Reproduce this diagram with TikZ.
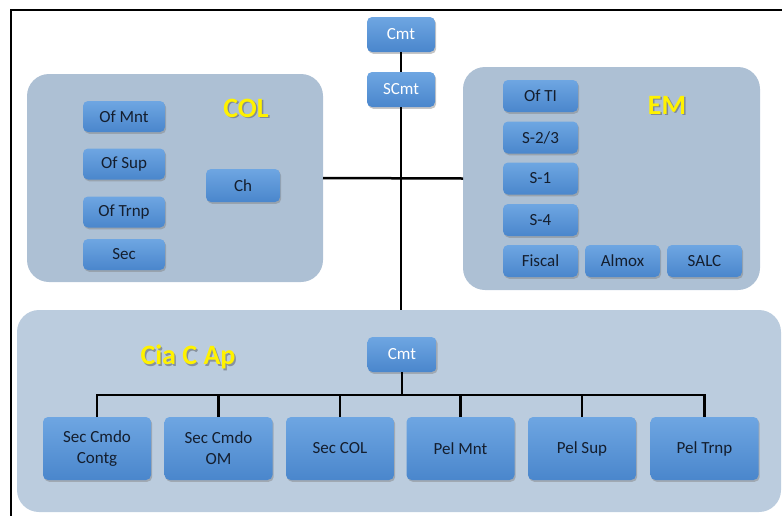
\documentclass[tikz,border=0pt]{standalone}
\usepackage{fontspec}
\setmainfont{Carlito}
\usetikzlibrary{shadows}
\definecolor{boxtop}{HTML}{6EA6E2}
\definecolor{boxbot}{HTML}{4A86CC}
\definecolor{colfill}{HTML}{ADC0D4}
\definecolor{ciafill}{HTML}{BBCCDE}
\definecolor{txtdark}{HTML}{141E2E}
\tikzset{
  unit/.style={draw=none, rounded corners=5pt, top color=boxtop, bottom color=boxbot,
    inner sep=0pt, outer sep=0pt, align=center, text=txtdark,
    font=\fontsize{17}{21}\selectfont,
    drop shadow={opacity=0.45, shadow xshift=1.2pt, shadow yshift=-1.8pt}},
  small/.style={unit, minimum width=82pt, minimum height=31pt},
  big/.style={unit, minimum width=108pt, minimum height=63pt},
  whitetxt/.style={text=white},
  group/.style={draw=none, rounded corners=22pt, inner sep=0pt, outer sep=0pt},
  grouptitle/.style={font=\bfseries\fontsize{28}{30}\selectfont, text=yellow},
  titleshadow/.style={font=\bfseries\fontsize{28}{30}\selectfont, text=black!70, opacity=0.45},
  link/.style={draw=black, line width=2.5pt},
}
\begin{document}
\begin{tikzpicture}[x=1pt,y=-1pt]
\useasboundingbox (0,0) rectangle (782,515);
% outer frame
\draw[line width=2pt] (11,520) -- (11,10) -- (790,10);

% containers
\node[group, fill=colfill, minimum width=296pt, minimum height=208pt] (col) at (175,178) {};
\node[group, fill=colfill, minimum width=297pt, minimum height=223pt] (em) at (611.5,178.5) {};
\node[group, fill=ciafill, minimum width=764pt, minimum height=202pt] (cia) at (399,411) {};

% top chain
\node[small, whitetxt, minimum width=68pt, minimum height=35pt] (cmt) at (401,34.5) {Cmt};
\node[small, whitetxt, minimum width=68pt, minimum height=35pt] (scmt) at (401,89.5) {SCmt};
\draw[link] (cmt.south) -- (scmt.north);
\draw[link] (scmt.south) -- (scmt.south |- cia.north);
\draw[link] (col.east) -- (em.west);

% COL
\node[titleshadow] at (247.5,109.5) {COL};
\node[grouptitle] (coltitle) at (246,108) {COL};
\node[small] (ofmnt) at (124,116.5) {Of Mnt};
\node[small] (ofsup) at (124,164) {Of Sup};
\node[small] (oftrnp) at (124,212) {Of Trnp};
\node[small] (sec) at (124,254.5) {Sec};
\node[small, minimum width=74pt, minimum height=33pt] (ch) at (243,185.5) {Ch};

% EM
\node[titleshadow] at (668.5,106.5) {EM};
\node[grouptitle] (emtitle) at (667,105) {EM};
\node[small, minimum width=75pt, minimum height=32pt] (ofti) at (540.5,96) {Of TI};
\node[small, minimum width=75pt, minimum height=32pt] (s23) at (540.5,137.5) {S-2/3};
\node[small, minimum width=75pt, minimum height=32pt] (s1) at (540.5,178.5) {S-1};
\node[small, minimum width=75pt, minimum height=32pt] (s4) at (540.5,220) {S-4};
\node[small, minimum width=75pt, minimum height=32pt] (fiscal) at (540.5,261) {Fiscal};
\node[small, minimum width=75pt, minimum height=32pt] (almox) at (622.5,261) {Almox};
\node[small, minimum width=75pt, minimum height=32pt] (salc) at (704.5,261) {SALC};

% Cia C Ap
\node[titleshadow] at (189.5,358.5) {Cia C Ap};
\node[grouptitle] (ciatitle) at (188,357) {Cia C Ap};
\node[small, whitetxt, minimum width=69pt, minimum height=35pt] (cmtb) at (402,354.5) {Cmt};
\coordinate (bus) at (402,395);
\node[big] (c1) at (97,448.5) {Sec Cmdo\\Contg};
\node[big] (c2) at (218.5,448.5) {Sec Cmdo\\OM};
\node[big] (c3) at (340,448.5) {Sec COL};
\node[big] (c4) at (460.5,448.5) {Pel Mnt};
\node[big] (c5) at (582,448.5) {Pel Sup};
\node[big] (c6) at (704.5,448.5) {Pel Trnp};
\draw[link] (cmtb.south) -- (cmtb.south |- bus);
\draw[link] (c1.north) -- (c1.north |- bus) -- (c6.north |- bus) -- (c6.north);
\foreach \n in {c2,c3,c4,c5} \draw[link] (\n.north) -- (\n.north |- bus);
\end{tikzpicture}
\end{document}
